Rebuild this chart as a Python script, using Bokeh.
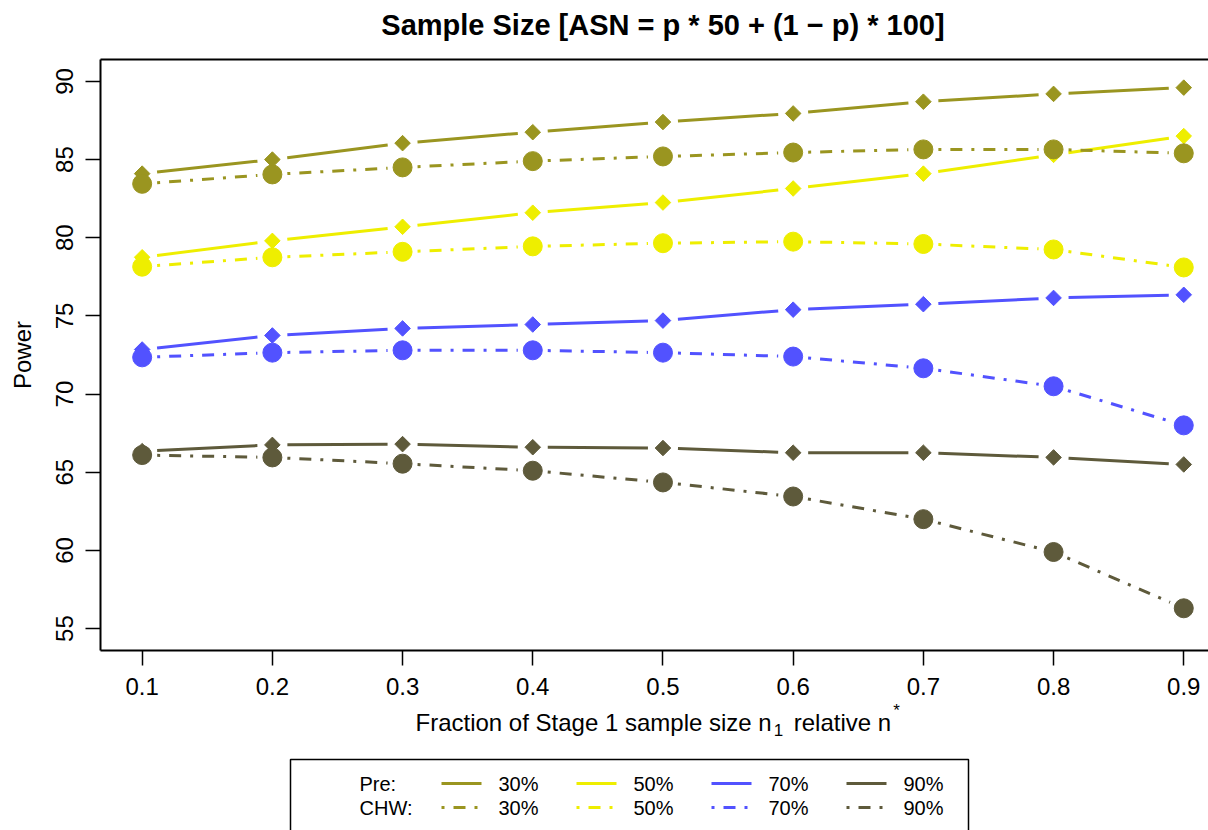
import math
from bokeh.plotting import figure
from bokeh.models import Range1d, LinearAxis, FixedTicker
from bokeh.layouts import column
from bokeh.embed import file_html
from bokeh.resources import INLINE
from bokeh.core.properties import value

# ---------------- data ----------------
fractions = [0.1, 0.2, 0.3, 0.4, 0.5, 0.6, 0.7, 0.8, 0.9]
pre_30 = [84.1, 85.0, 86.05, 86.75, 87.4, 87.95, 88.7, 89.2, 89.6]
chw_30 = [83.45, 84.05, 84.5, 84.9, 85.2, 85.45, 85.65, 85.65, 85.4]
pre_50 = [78.75, 79.8, 80.7, 81.6, 82.25, 83.15, 84.1, 85.3, 86.5]
chw_50 = [78.15, 78.75, 79.1, 79.45, 79.65, 79.75, 79.6, 79.25, 78.1]
pre_70 = [72.85, 73.75, 74.2, 74.45, 74.7, 75.4, 75.75, 76.15, 76.35]
chw_70 = [72.35, 72.65, 72.8, 72.8, 72.65, 72.4, 71.65, 70.5, 68.0]
pre_90 = [66.35, 66.75, 66.8, 66.6, 66.55, 66.25, 66.25, 65.95, 65.5]
chw_90 = [66.1, 65.95, 65.55, 65.1, 64.35, 63.45, 62.0, 59.9, 56.3]
group_labels = ["30%", "50%", "70%", "90%"]
group_colors = ["#9A9520", "#EEEE00", "#5252FF", "#5E5A3B"]
pre_series = [pre_30, pre_50, pre_70, pre_90]
chw_series = [chw_30, chw_50, chw_70, chw_90]
y_ticks = [55, 60, 65, 70, 75, 80, 85, 90]

TITLE = "Sample Size [ASN = p * 50 + (1 \u2212 p) * 100]"
FONT = "Liberation Sans"
DOTDASH = "3 9 12 9"

# ---------------- geometry ----------------
W = 1208
H_TITLE = 45
H_MAIN = 655
H_BOT = 830 - H_TITLE - H_MAIN
FL, FT, FB = 100, 14, 50
FW = W - FL
FH = H_MAIN - FT - FB
X0 = 0.068
X1 = X0 + FW / 1302.0
Y0, Y1 = 53.6, 91.4
SX = FW / (X1 - X0)
SY = FH / (Y1 - Y0)


def gapped(xs, ys, gap=15.0):
    x0s, y0s, x1s, y1s = [], [], [], []
    for i in range(len(xs) - 1):
        dx = xs[i + 1] - xs[i]
        dy = ys[i + 1] - ys[i]
        L = math.hypot(dx * SX, dy * SY)
        f = gap / L
        x0s.append(xs[i] + dx * f)
        y0s.append(ys[i] + dy * f)
        x1s.append(xs[i + 1] - dx * f)
        y1s.append(ys[i + 1] - dy * f)
    return x0s, y0s, x1s, y1s


def strip(height):
    f = figure(width=W, height=height, x_range=Range1d(FL, W), y_range=Range1d(height, 0),
               output_backend="svg", toolbar_location=None,
               x_axis_location=None, y_axis_location=None,
               min_border_left=FL, min_border_right=0, min_border_top=0, min_border_bottom=0)
    f.outline_line_color = None
    f.xgrid.grid_line_color = None
    f.ygrid.grid_line_color = None
    return f


# ---------------- title strip ----------------
tfig = strip(H_TITLE)
center_px = FL + (0.5 - X0) * SX
tfig.text(x=[center_px], y=[24], text=[TITLE], text_font=value(FONT), text_font_size="29px",
          text_font_style="bold", text_align="center", text_baseline="middle",
          text_color="black")

# ---------------- main plot ----------------
p = figure(width=W, height=H_MAIN, x_range=Range1d(X0, X1), y_range=Range1d(Y0, Y1),
           output_backend="svg", toolbar_location=None,
           min_border_left=FL, min_border_right=0, min_border_top=FT, min_border_bottom=FB)
p.outline_line_color = None
p.xgrid.grid_line_color = None
p.ygrid.grid_line_color = None

for ax in (p.xaxis[0], p.yaxis[0]):
    ax.axis_line_width = 2
    ax.axis_line_color = "black"
    ax.major_tick_line_width = 1.5
    ax.major_tick_line_color = "black"
    ax.major_tick_out = 15
    ax.major_tick_in = 0
    ax.minor_tick_out = 0
    ax.minor_tick_in = 0
    ax.major_label_text_font = FONT
    ax.major_label_text_font_size = "24px"
    ax.major_label_text_color = "black"

p.xaxis[0].ticker = FixedTicker(ticks=fractions)
p.xaxis[0].major_label_standoff = 12
p.yaxis[0].ticker = FixedTicker(ticks=y_ticks)
p.yaxis[0].major_label_orientation = "vertical"
p.yaxis[0].major_label_standoff = 12
p.yaxis[0].axis_label = "Power"
p.yaxis[0].axis_label_text_font = FONT
p.yaxis[0].axis_label_text_font_size = "24px"
p.yaxis[0].axis_label_text_font_style = "normal"
p.yaxis[0].axis_label_text_color = "black"
p.yaxis[0].axis_label_standoff = 18

top_axis = LinearAxis(ticker=FixedTicker(ticks=[]), axis_line_width=2, axis_line_color="black",
                      major_tick_out=0, major_tick_in=0, minor_tick_out=0, minor_tick_in=0,
                      major_label_standoff=0, major_label_text_font_size="0px")
p.add_layout(top_axis, "above")

for ys, col in zip(pre_series, group_colors):
    a, b, c, d = gapped(fractions, ys)
    p.segment(a, b, c, d, line_color=col, line_width=3, line_cap="butt")
for ys, col in zip(chw_series, group_colors):
    a, b, c, d = gapped(fractions, ys)
    p.segment(a, b, c, d, line_color=col, line_width=3, line_dash=DOTDASH, line_cap="butt")
for ys, col in zip(pre_series, group_colors):
    p.scatter(fractions, ys, marker="square", angle=math.pi / 4, size=11,
              fill_color=col, line_color=col, line_width=1)
for ys, col in zip(chw_series, group_colors):
    p.scatter(fractions, ys, marker="circle", size=19,
              fill_color=col, line_color=col, line_width=1)

# ---------------- bottom strip: x label + legend ----------------
bfig = strip(H_BOT)
OFF = H_TITLE + H_MAIN  # page y of strip top

main_sz, small_sz = 24, 17
wA = 14.840 * main_sz
wS = 0.556 * small_sz + 0.278 * main_sz + 6
wB = 4.058 * main_sz + 2
start = 415
parts = [
    ("Fraction of Stage 1 sample size n", start, 722, main_sz),
    ("1", start + wA + 2, 729, small_sz),
    ("relative n", start + wA + wS, 722, main_sz),
    ("*", start + wA + wS + wB, 710, small_sz),
]
for t, xp, yp, sz in parts:
    bfig.text(x=[xp], y=[yp - OFF], text=[t], text_font=value(FONT), text_font_size=f"{sz}px",
              text_align="left", text_baseline="middle", text_color="black")

bfig.quad(left=[290], right=[968], top=[759 - OFF], bottom=[900 - OFF], fill_color=None,
          line_color="black", line_width=1.5)

row_y = [783 - OFF, 807 - OFF]
bfig.text(x=[359, 359], y=row_y, text=["Pre:", "CHW:"], text_font=value(FONT),
          text_font_size="20px", text_baseline="middle", text_align="left", text_color="black")
for i, (lab, col) in enumerate(zip(group_labels, group_colors)):
    lx = 441 + i * 135
    bfig.segment([lx], [row_y[0]], [lx + 40], [row_y[0]], line_color=col, line_width=3,
                 line_cap="butt")
    bfig.segment([lx], [row_y[1]], [lx + 40], [row_y[1]], line_color=col, line_width=3,
                 line_dash=DOTDASH, line_cap="butt")
    bfig.text(x=[lx + 57, lx + 57], y=row_y, text=[lab, lab], text_font=value(FONT),
              text_font_size="20px", text_baseline="middle", text_align="left",
              text_color="black")

layout = column(tfig, p, bfig, spacing=0)
open("out.html", "w").write(file_html(layout, INLINE))
